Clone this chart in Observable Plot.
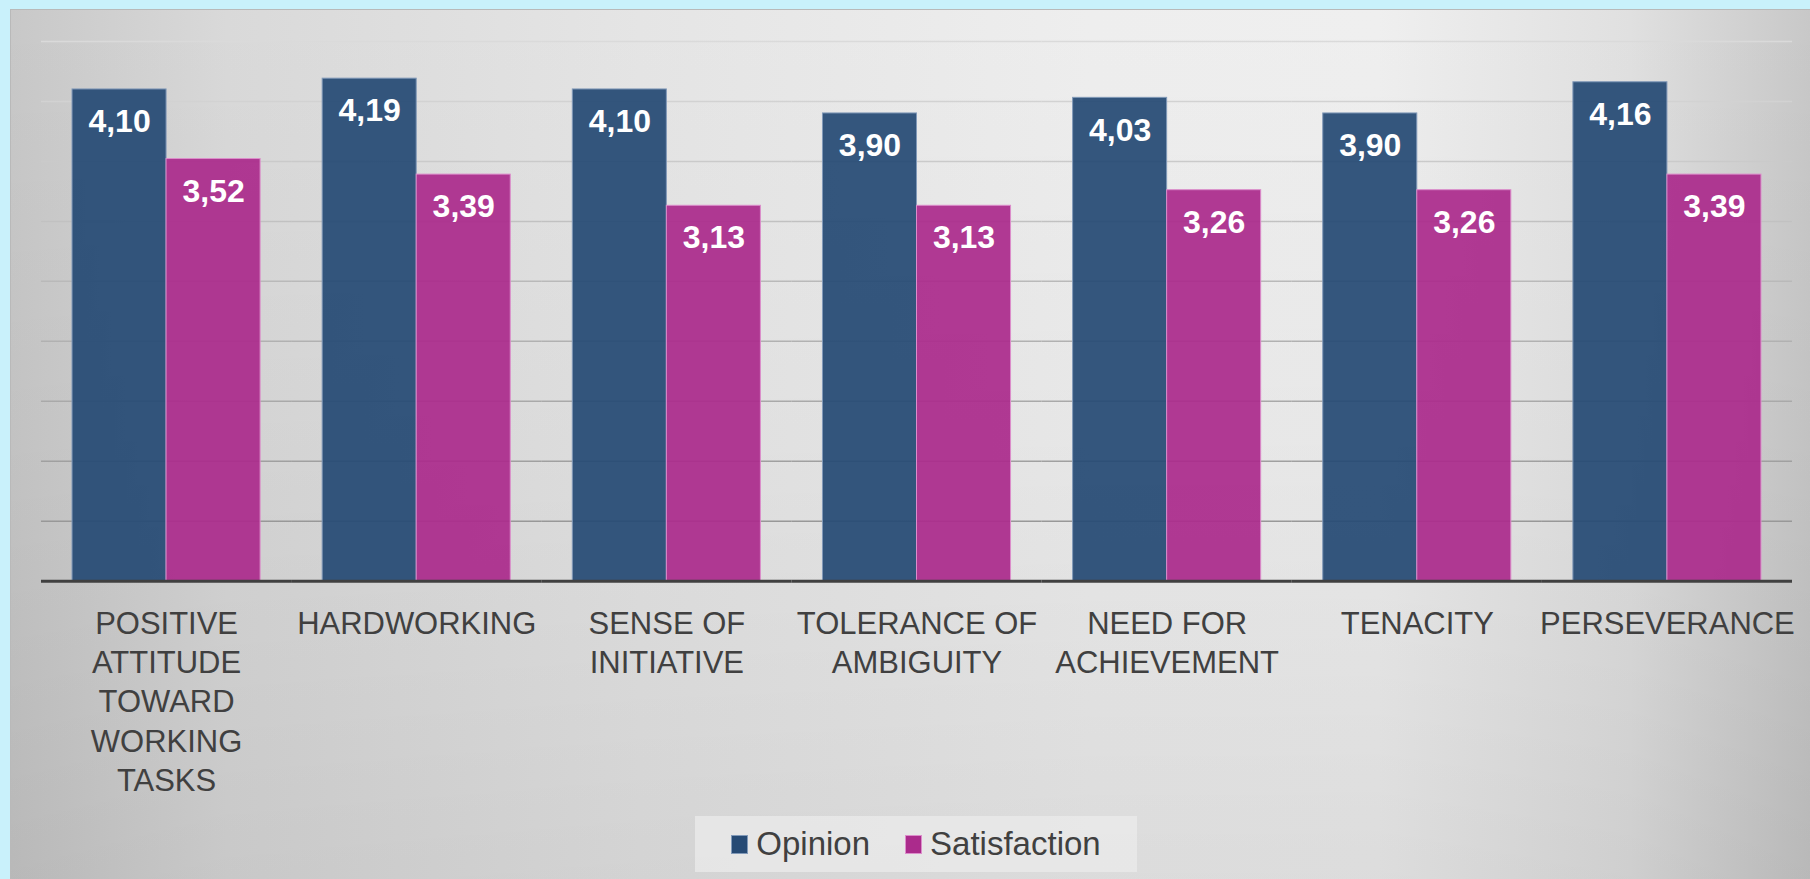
<!DOCTYPE html>
<html>
<head>
<meta charset="utf-8">
<script src="https://cdn.jsdelivr.net/npm/d3@7"></script>
<script src="https://cdn.jsdelivr.net/npm/@observablehq/plot@0.6"></script>
<style>
  html, body { margin: 0; padding: 0; width: 1810px; height: 879px; overflow: hidden; background: #c9f1fb; }
  #panel {
    position: absolute; left: 10px; top: 9px; width: 1800px; height: 870px;
    box-sizing: border-box; border-top: 1px solid #b9b9b9; border-left: 1px solid #b9b9b9;
    background:
      linear-gradient(to bottom, rgba(0,0,0,0) 0%, rgba(0,0,0,0.03) 50%, rgba(0,0,0,0.08) 100%),
      linear-gradient(to right, #c8c8c8 0%, #d9d9d9 12%, #e5e5e5 35%, #eeeeee 60%, #efefef 76%, #e0e0e0 90%, #c8c8c8 100%);
    font-family: "Liberation Sans", Arial, sans-serif;
  }
  #chart { position: absolute; left: -1px; top: -1px; }
  #legend {
    position: absolute; left: 684px; top: 806px; width: 442px; height: 56px;
    background: rgba(235,235,235,0.75);
    display: flex; align-items: center; justify-content: center;
    font-family: "Liberation Sans", Arial, sans-serif; font-size: 33px; color: #404040;
  }
  .item { display: flex; align-items: center; }
  .sw { width: 17px; height: 19px; box-sizing: border-box; margin-right: 8px; }
</style>
</head>
<body>
<div id="panel">
  <div id="chart"></div>
  <div id="legend"></div>
</div>
<script>
const categories = ["POSITIVE ATTITUDE TOWARD WORKING TASKS", "HARDWORKING", "SENSE OF INITIATIVE", "TOLERANCE OF AMBIGUITY", "NEED FOR ACHIEVEMENT", "TENACITY", "PERSEVERANCE"];
const categoryLabels = ["POSITIVE\nATTITUDE\nTOWARD\nWORKING\nTASKS", "HARDWORKING", "SENSE OF\nINITIATIVE", "TOLERANCE OF\nAMBIGUITY", "NEED FOR\nACHIEVEMENT", "TENACITY", "PERSEVERANCE"];
const series = ["Opinion", "Satisfaction"];
const opinion = [4.10, 4.19, 4.10, 3.90, 4.03, 3.90, 4.16];
const satisfaction = [3.52, 3.39, 3.13, 3.13, 3.26, 3.26, 3.39];
const gridTicks = [0.5, 1, 1.5, 2, 2.5, 3, 3.5, 4, 4.5];

const fills = ["#264a74", "#ab2b8c"];
const strokes = ["#8199b8", "#dc8dcb"];

const data = [];
categories.forEach((c, i) => {
  data.push({category: c, label: categoryLabels[i], series: series[0], value: opinion[i]});
  data.push({category: c, label: categoryLabels[i], series: series[1], value: satisfaction[i]});
});
const fmt = v => d3.format(".2f")(v).replace(".", ",");
const gridColor = d3.interpolateRgb("#909090", "#dadada");

const chart = Plot.plot({
  width: 1801,
  height: 801,
  marginLeft: 31,
  marginRight: 18,
  marginTop: 32,
  marginBottom: 229,
  style: {background: "transparent", fontFamily: "Liberation Sans, Arial, sans-serif", fontSize: "31px", color: "#404040"},
  fx: {domain: categories, padding: 0, round: false, label: null, axis: null},
  x: {domain: series, paddingInner: 0, paddingOuter: 0.33, round: false, axis: null},
  y: {domain: [0, 4.5], axis: null},
  color: {domain: series, range: fills},
  facet: {data: data, x: "category"},
  marks: [
    Plot.ruleY(gridTicks, {stroke: d => gridColor(d / 4.5), strokeWidth: 1.5}),
    Plot.barY(data, {x: "series", y: "value", fill: "series", fillOpacity: 0.93,
      stroke: d => strokes[series.indexOf(d.series)], strokeWidth: 1}),
    Plot.text(data, {x: "series", y: "value", text: d => fmt(d.value), fill: "white",
      fontWeight: "bold", fontSize: 32, lineAnchor: "top", dy: 20}),
    Plot.ruleY([0], {stroke: "#404040", strokeWidth: 3}),
    Plot.text(data, {filter: d => d.series === series[0], text: "label", frameAnchor: "bottom",
      lineAnchor: "top", dy: 25, lineHeight: 1.265, fontSize: 31, fill: "#404040"})
  ]
});
document.getElementById("chart").appendChild(chart);

// Legend
const legend = document.getElementById("legend");
series.forEach((s, i) => {
  const item = document.createElement("div");
  item.className = "item";
  if (i > 0) item.style.marginLeft = "35px";
  const sw = document.createElement("div");
  sw.className = "sw";
  sw.style.background = fills[i];
  sw.style.border = "1px solid " + strokes[i];
  const t = document.createElement("span");
  t.textContent = s;
  item.appendChild(sw);
  item.appendChild(t);
  legend.appendChild(item);
});
</script>
</body>
</html>
